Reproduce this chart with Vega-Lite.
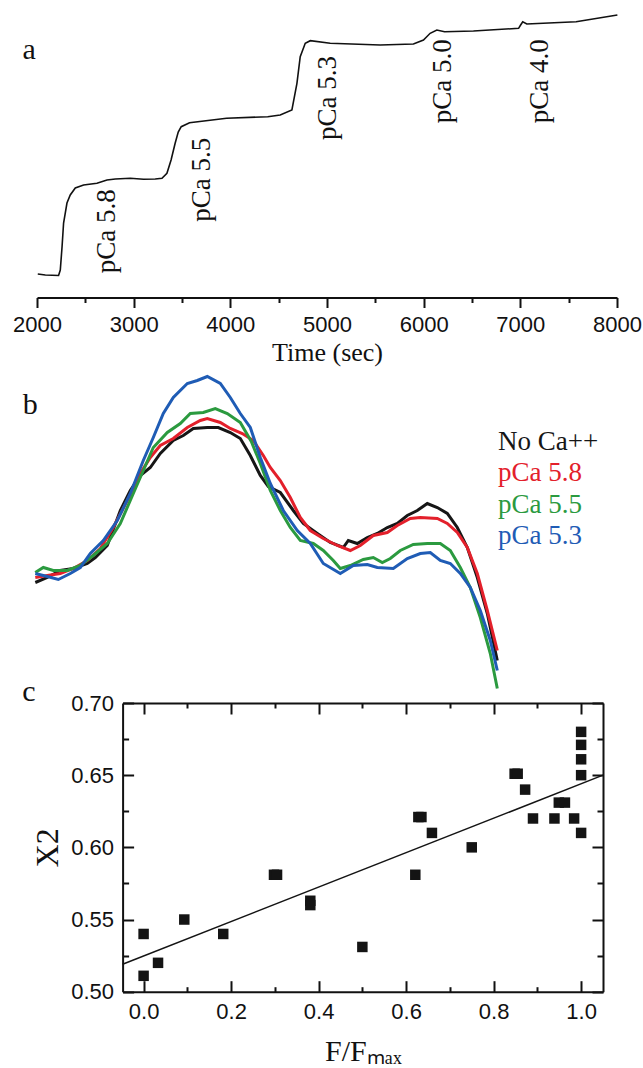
{
  "$schema": "https://vega.github.io/schema/vega-lite/v6.json",
  "background": "white",
  "padding": {"left": 12, "top": 10, "right": 0, "bottom": 0},
  "bounds": "flush",
  "spacing": 5,
  "config": {
    "view": {"stroke": null},
    "font": "Liberation Serif",
    "axis": {"grid": false, "domainColor": "#111", "domainWidth": 2, "tickColor": "#111", "tickWidth": 2, "labelFont": "Liberation Sans", "labelFontSize": 22, "labelColor": "#111", "titleFont": "Liberation Serif", "titleFontWeight": "normal", "titleColor": "#111", "labelFlush": false, "labelOverlap": false}
  },
  "datasets": {
    "trace": [
      {"t": 2008, "v": 23.5}, {"t": 2086, "v": 22.5}, {"t": 2223, "v": 22}, {"t": 2241, "v": 27.5}, {"t": 2259, "v": 50.5}, {"t": 2275, "v": 74.5}, {"t": 2310, "v": 94.5}, {"t": 2344, "v": 102.5}, {"t": 2396, "v": 109.5}, {"t": 2482, "v": 112.5}, {"t": 2620, "v": 114.2}, {"t": 2724, "v": 117.5}, {"t": 2810, "v": 118.5}, {"t": 2965, "v": 119.2}, {"t": 3102, "v": 118.2}, {"t": 3223, "v": 118.5}, {"t": 3293, "v": 119.2}, {"t": 3344, "v": 124.2}, {"t": 3387, "v": 137.5}, {"t": 3429, "v": 154.2}, {"t": 3461, "v": 165.5}, {"t": 3492, "v": 170.8}, {"t": 3578, "v": 174.8}, {"t": 3961, "v": 179.2}, {"t": 4387, "v": 180.8}, {"t": 4516, "v": 182.5}, {"t": 4637, "v": 187.5}, {"t": 4689, "v": 214.2}, {"t": 4723, "v": 240.8}, {"t": 4775, "v": 254.2}, {"t": 4827, "v": 256.8}, {"t": 5033, "v": 254.2}, {"t": 5550, "v": 252.5}, {"t": 5894, "v": 253.5}, {"t": 5998, "v": 257.5}, {"t": 6067, "v": 264.2}, {"t": 6136, "v": 267.5}, {"t": 6216, "v": 265.8}, {"t": 6515, "v": 266.5}, {"t": 6982, "v": 269.2}, {"t": 7003, "v": 272.5}, {"t": 7025, "v": 275.8}, {"t": 7067, "v": 273.5}, {"t": 7577, "v": 275.8}, {"t": 8004, "v": 282.5}
    ],
    "steps": [
      {"label": "pCa 5.8", "t": 2724, "v": 24.2},
      {"label": "pCa 5.5", "t": 3705, "v": 75.8},
      {"label": "pCa 5.3", "t": 5015, "v": 157.5},
      {"label": "pCa 5.0", "t": 6205, "v": 174.2},
      {"label": "pCa 4.0", "t": 7205, "v": 174.2}
    ],
    "spectra": [
      {"series": "No Ca++", "x": 5, "I": 115}, {"series": "No Ca++", "x": 17, "I": 120}, {"series": "No Ca++", "x": 30, "I": 127}, {"series": "No Ca++", "x": 43, "I": 129}, {"series": "No Ca++", "x": 57, "I": 134}, {"series": "No Ca++", "x": 65, "I": 140}, {"series": "No Ca++", "x": 77, "I": 152}, {"series": "No Ca++", "x": 90, "I": 187}, {"series": "No Ca++", "x": 100, "I": 207}, {"series": "No Ca++", "x": 110, "I": 222}, {"series": "No Ca++", "x": 120, "I": 230}, {"series": "No Ca++", "x": 130, "I": 244}, {"series": "No Ca++", "x": 143, "I": 257}, {"series": "No Ca++", "x": 153, "I": 262}, {"series": "No Ca++", "x": 163, "I": 269}, {"series": "No Ca++", "x": 177, "I": 270}, {"series": "No Ca++", "x": 188, "I": 270}, {"series": "No Ca++", "x": 200, "I": 265}, {"series": "No Ca++", "x": 210, "I": 259}, {"series": "No Ca++", "x": 220, "I": 242}, {"series": "No Ca++", "x": 230, "I": 222}, {"series": "No Ca++", "x": 238, "I": 211}, {"series": "No Ca++", "x": 250, "I": 205}, {"series": "No Ca++", "x": 263, "I": 187}, {"series": "No Ca++", "x": 273, "I": 174}, {"series": "No Ca++", "x": 287, "I": 164}, {"series": "No Ca++", "x": 300, "I": 155}, {"series": "No Ca++", "x": 313, "I": 150}, {"series": "No Ca++", "x": 318, "I": 157}, {"series": "No Ca++", "x": 327, "I": 154}, {"series": "No Ca++", "x": 337, "I": 160}, {"series": "No Ca++", "x": 347, "I": 164}, {"series": "No Ca++", "x": 357, "I": 170}, {"series": "No Ca++", "x": 367, "I": 174}, {"series": "No Ca++", "x": 377, "I": 182}, {"series": "No Ca++", "x": 387, "I": 187}, {"series": "No Ca++", "x": 397, "I": 194}, {"series": "No Ca++", "x": 407, "I": 190}, {"series": "No Ca++", "x": 417, "I": 184}, {"series": "No Ca++", "x": 427, "I": 170}, {"series": "No Ca++", "x": 437, "I": 150}, {"series": "No Ca++", "x": 447, "I": 120}, {"series": "No Ca++", "x": 457, "I": 84}, {"series": "No Ca++", "x": 467, "I": 37},
      {"series": "pCa 5.8", "x": 5, "I": 120}, {"series": "pCa 5.8", "x": 17, "I": 122}, {"series": "pCa 5.8", "x": 30, "I": 124}, {"series": "pCa 5.8", "x": 43, "I": 129}, {"series": "pCa 5.8", "x": 57, "I": 137}, {"series": "pCa 5.8", "x": 70, "I": 149}, {"series": "pCa 5.8", "x": 83, "I": 170}, {"series": "pCa 5.8", "x": 97, "I": 197}, {"series": "pCa 5.8", "x": 110, "I": 224}, {"series": "pCa 5.8", "x": 120, "I": 240}, {"series": "pCa 5.8", "x": 130, "I": 252}, {"series": "pCa 5.8", "x": 143, "I": 259}, {"series": "pCa 5.8", "x": 157, "I": 270}, {"series": "pCa 5.8", "x": 170, "I": 277}, {"series": "pCa 5.8", "x": 177, "I": 279}, {"series": "pCa 5.8", "x": 190, "I": 275}, {"series": "pCa 5.8", "x": 200, "I": 269}, {"series": "pCa 5.8", "x": 212, "I": 264}, {"series": "pCa 5.8", "x": 223, "I": 257}, {"series": "pCa 5.8", "x": 233, "I": 242}, {"series": "pCa 5.8", "x": 240, "I": 230}, {"series": "pCa 5.8", "x": 250, "I": 217}, {"series": "pCa 5.8", "x": 260, "I": 200}, {"series": "pCa 5.8", "x": 270, "I": 180}, {"series": "pCa 5.8", "x": 280, "I": 167}, {"series": "pCa 5.8", "x": 293, "I": 159}, {"series": "pCa 5.8", "x": 307, "I": 152}, {"series": "pCa 5.8", "x": 320, "I": 147}, {"series": "pCa 5.8", "x": 330, "I": 152}, {"series": "pCa 5.8", "x": 343, "I": 162}, {"series": "pCa 5.8", "x": 357, "I": 165}, {"series": "pCa 5.8", "x": 367, "I": 172}, {"series": "pCa 5.8", "x": 380, "I": 179}, {"series": "pCa 5.8", "x": 390, "I": 180}, {"series": "pCa 5.8", "x": 407, "I": 179}, {"series": "pCa 5.8", "x": 417, "I": 174}, {"series": "pCa 5.8", "x": 427, "I": 165}, {"series": "pCa 5.8", "x": 437, "I": 150}, {"series": "pCa 5.8", "x": 447, "I": 124}, {"series": "pCa 5.8", "x": 457, "I": 87}, {"series": "pCa 5.8", "x": 467, "I": 47},
      {"series": "pCa 5.5", "x": 5, "I": 125}, {"series": "pCa 5.5", "x": 13, "I": 130}, {"series": "pCa 5.5", "x": 23, "I": 127}, {"series": "pCa 5.5", "x": 37, "I": 127}, {"series": "pCa 5.5", "x": 50, "I": 132}, {"series": "pCa 5.5", "x": 63, "I": 142}, {"series": "pCa 5.5", "x": 77, "I": 154}, {"series": "pCa 5.5", "x": 90, "I": 174}, {"series": "pCa 5.5", "x": 103, "I": 204}, {"series": "pCa 5.5", "x": 113, "I": 227}, {"series": "pCa 5.5", "x": 123, "I": 250}, {"series": "pCa 5.5", "x": 137, "I": 265}, {"series": "pCa 5.5", "x": 150, "I": 274}, {"series": "pCa 5.5", "x": 160, "I": 284}, {"series": "pCa 5.5", "x": 173, "I": 285}, {"series": "pCa 5.5", "x": 185, "I": 289}, {"series": "pCa 5.5", "x": 197, "I": 284}, {"series": "pCa 5.5", "x": 210, "I": 275}, {"series": "pCa 5.5", "x": 221, "I": 256}, {"series": "pCa 5.5", "x": 230, "I": 234}, {"series": "pCa 5.5", "x": 240, "I": 207}, {"series": "pCa 5.5", "x": 250, "I": 187}, {"series": "pCa 5.5", "x": 260, "I": 170}, {"series": "pCa 5.5", "x": 270, "I": 157}, {"series": "pCa 5.5", "x": 283, "I": 154}, {"series": "pCa 5.5", "x": 293, "I": 147}, {"series": "pCa 5.5", "x": 303, "I": 137}, {"series": "pCa 5.5", "x": 310, "I": 129}, {"series": "pCa 5.5", "x": 320, "I": 132}, {"series": "pCa 5.5", "x": 333, "I": 138}, {"series": "pCa 5.5", "x": 343, "I": 140}, {"series": "pCa 5.5", "x": 352, "I": 135}, {"series": "pCa 5.5", "x": 360, "I": 139}, {"series": "pCa 5.5", "x": 370, "I": 147}, {"series": "pCa 5.5", "x": 383, "I": 153}, {"series": "pCa 5.5", "x": 397, "I": 154}, {"series": "pCa 5.5", "x": 410, "I": 154}, {"series": "pCa 5.5", "x": 420, "I": 147}, {"series": "pCa 5.5", "x": 430, "I": 130}, {"series": "pCa 5.5", "x": 440, "I": 110}, {"series": "pCa 5.5", "x": 450, "I": 80}, {"series": "pCa 5.5", "x": 460, "I": 44}, {"series": "pCa 5.5", "x": 467, "I": 9},
      {"series": "pCa 5.3", "x": 5, "I": 124}, {"series": "pCa 5.3", "x": 17, "I": 121}, {"series": "pCa 5.3", "x": 28, "I": 118}, {"series": "pCa 5.3", "x": 40, "I": 124}, {"series": "pCa 5.3", "x": 50, "I": 130}, {"series": "pCa 5.3", "x": 60, "I": 144}, {"series": "pCa 5.3", "x": 73, "I": 157}, {"series": "pCa 5.3", "x": 87, "I": 177}, {"series": "pCa 5.3", "x": 100, "I": 204}, {"series": "pCa 5.3", "x": 113, "I": 237}, {"series": "pCa 5.3", "x": 123, "I": 260}, {"series": "pCa 5.3", "x": 133, "I": 284}, {"series": "pCa 5.3", "x": 143, "I": 300}, {"series": "pCa 5.3", "x": 157, "I": 314}, {"series": "pCa 5.3", "x": 167, "I": 317}, {"series": "pCa 5.3", "x": 177, "I": 321}, {"series": "pCa 5.3", "x": 190, "I": 314}, {"series": "pCa 5.3", "x": 200, "I": 300}, {"series": "pCa 5.3", "x": 210, "I": 284}, {"series": "pCa 5.3", "x": 220, "I": 270}, {"series": "pCa 5.3", "x": 230, "I": 240}, {"series": "pCa 5.3", "x": 240, "I": 214}, {"series": "pCa 5.3", "x": 253, "I": 187}, {"series": "pCa 5.3", "x": 267, "I": 167}, {"series": "pCa 5.3", "x": 280, "I": 154}, {"series": "pCa 5.3", "x": 293, "I": 134}, {"series": "pCa 5.3", "x": 310, "I": 124}, {"series": "pCa 5.3", "x": 323, "I": 132}, {"series": "pCa 5.3", "x": 337, "I": 133}, {"series": "pCa 5.3", "x": 347, "I": 130}, {"series": "pCa 5.3", "x": 363, "I": 129}, {"series": "pCa 5.3", "x": 377, "I": 139}, {"series": "pCa 5.3", "x": 390, "I": 144}, {"series": "pCa 5.3", "x": 400, "I": 145}, {"series": "pCa 5.3", "x": 410, "I": 137}, {"series": "pCa 5.3", "x": 420, "I": 134}, {"series": "pCa 5.3", "x": 430, "I": 124}, {"series": "pCa 5.3", "x": 440, "I": 110}, {"series": "pCa 5.3", "x": 450, "I": 87}, {"series": "pCa 5.3", "x": 460, "I": 57}, {"series": "pCa 5.3", "x": 467, "I": 27}
    ],
    "pts": [
      {"f": 0.0, "x2": 0.54}, {"f": 0.0, "x2": 0.511}, {"f": 0.033, "x2": 0.52}, {"f": 0.093, "x2": 0.55}, {"f": 0.182, "x2": 0.54}, {"f": 0.298, "x2": 0.581}, {"f": 0.305, "x2": 0.581}, {"f": 0.381, "x2": 0.56}, {"f": 0.381, "x2": 0.563}, {"f": 0.5, "x2": 0.531}, {"f": 0.621, "x2": 0.581}, {"f": 0.628, "x2": 0.621}, {"f": 0.635, "x2": 0.621}, {"f": 0.659, "x2": 0.61}, {"f": 0.75, "x2": 0.6}, {"f": 0.848, "x2": 0.651}, {"f": 0.855, "x2": 0.651}, {"f": 0.872, "x2": 0.64}, {"f": 0.89, "x2": 0.62}, {"f": 0.939, "x2": 0.62}, {"f": 0.949, "x2": 0.631}, {"f": 0.963, "x2": 0.631}, {"f": 0.984, "x2": 0.62}, {"f": 1.0, "x2": 0.61}, {"f": 1.0, "x2": 0.65}, {"f": 1.0, "x2": 0.661}, {"f": 1.0, "x2": 0.671}, {"f": 1.0, "x2": 0.68}
    ],
    "fitline": [{"f": -0.048, "x2": 0.519}, {"f": 1.05, "x2": 0.65}]
  },
  "vconcat": [
    {
      "width": 580,
      "height": 287.5,
      "layer": [
        {
          "data": {"name": "trace"},
          "mark": {"type": "line", "color": "#111", "strokeWidth": 1.6},
          "encoding": {
            "x": {"field": "t", "type": "quantitative", "scale": {"domain": [2000, 8000], "nice": false, "zero": false},
              "axis": {"orient": "bottom", "values": [2000, 3000, 4000, 5000, 6000, 7000, 8000], "format": "d", "tickSize": 10, "labelPadding": 7, "title": "Time (sec)", "titlePadding": 4, "titleFontSize": 26}},
            "y": {"field": "v", "type": "quantitative", "scale": {"domain": [0, 287.5], "nice": false, "zero": false}, "axis": null}
          }
        },
        {
          "data": {"name": "trace"},
          "mark": {"type": "line", "opacity": 0},
          "encoding": {
            "x": {"field": "t", "type": "quantitative", "scale": {"domain": [2000, 8000], "nice": false, "zero": false},
              "axis": {"orient": "bottom", "values": [2500, 3500, 4500, 5500, 6500, 7500], "tickSize": 5, "labels": false, "domain": false, "title": null}},
            "y": {"field": "v", "type": "quantitative", "axis": null}
          }
        },
        {
          "data": {"name": "steps"},
          "mark": {"type": "text", "angle": 270, "align": "left", "baseline": "middle", "font": "Liberation Serif", "fontSize": 27, "color": "#111"},
          "encoding": {
            "x": {"field": "t", "type": "quantitative", "axis": null},
            "y": {"field": "v", "type": "quantitative", "axis": null},
            "text": {"field": "label"}
          }
        },
        {
          "data": {"values": [{"label": "a"}]},
          "mark": {"type": "text", "align": "center", "baseline": "middle", "font": "Liberation Serif", "fontSize": 30, "color": "#111"},
          "encoding": {
            "x": {"datum": 1918, "type": "quantitative", "axis": null},
            "y": {"datum": 248, "type": "quantitative", "axis": null},
            "text": {"field": "label"}
          }
        }
      ],
      "resolve": {"axis": {"x": "independent", "y": "independent"}}
    },
    {
      "width": 580,
      "height": 394.5,
      "layer": [
        {
          "data": {"name": "spectra"},
          "mark": {"type": "line", "strokeWidth": 3},
          "encoding": {
            "x": {"field": "x", "type": "quantitative", "scale": {"domain": [6.7, 586.7], "nice": false, "zero": false}, "axis": null},
            "y": {"field": "I", "type": "quantitative", "scale": {"domain": [0, 394.5], "nice": false, "zero": false}, "axis": null},
            "color": {"field": "series", "type": "nominal",
              "scale": {"domain": ["No Ca++", "pCa 5.8", "pCa 5.5", "pCa 5.3"], "range": ["#161616", "#e3202b", "#2b9a3f", "#1f5cb5"]},
              "legend": {"orient": "none", "legendX": 434, "legendY": 418, "title": null, "labelFont": "Liberation Serif", "labelFontSize": 27, "symbolSize": 0, "symbolOpacity": 0, "symbolStrokeWidth": 0, "labelOffset": 0, "rowPadding": 3.5, "padding": 0, "labelLimit": 0,
                "labelColor": {"expr": "datum.label === 'No Ca++' ? '#161616' : datum.label === 'pCa 5.8' ? '#e3202b' : datum.label === 'pCa 5.5' ? '#2b9a3f' : '#1f5cb5'"}}}
          }
        },
        {
          "data": {"values": [{"label": "b"}]},
          "mark": {"type": "text", "align": "center", "baseline": "middle", "font": "Liberation Serif", "fontSize": 30, "color": "#111"},
          "encoding": {
            "x": {"datum": 0, "type": "quantitative"},
            "y": {"datum": 293, "type": "quantitative"},
            "text": {"field": "label"}
          }
        }
      ]
    },
    {
      "width": 566,
      "height": 288.7,
      "layer": [
        {
          "data": {"name": "pts"},
          "mark": {"type": "point", "shape": "square", "filled": true, "size": 110, "color": "#141414", "opacity": 1},
          "encoding": {
            "x": {"field": "f", "type": "quantitative", "scale": {"domain": [-0.048, 1.05], "range": [85.6, 566], "nice": false, "zero": false},
              "axis": {"orient": "bottom", "values": [0, 0.2, 0.4, 0.6, 0.8, 1.0], "format": ".1f", "tickSize": -11, "labelPadding": 21, "title": "F/Fₘₐₓ", "titleFontSize": 30, "titlePadding": 14}},
            "y": {"field": "x2", "type": "quantitative", "scale": {"domain": [0.5, 0.7], "nice": false, "zero": false},
              "axis": {"orient": "left", "offset": -85.6, "values": [0.5, 0.55, 0.6, 0.65, 0.7], "format": ".2f", "tickSize": -11, "labelPadding": 20, "title": "X2", "titleFontSize": 32, "titlePadding": 6}}
          }
        },
        {
          "data": {"name": "fitline"},
          "mark": {"type": "line", "color": "#141414", "strokeWidth": 1.5},
          "encoding": {
            "x": {"field": "f", "type": "quantitative", "axis": {"orient": "top", "values": [0, 0.2, 0.4, 0.6, 0.8, 1.0], "tickSize": -11, "labels": false, "title": null}},
            "y": {"field": "x2", "type": "quantitative", "axis": {"orient": "right", "values": [0.5, 0.55, 0.6, 0.65, 0.7], "tickSize": -11, "labels": false, "title": null}}
          }
        },
        {
          "data": {"name": "pts"},
          "mark": {"type": "point", "opacity": 0},
          "encoding": {
            "x": {"field": "f", "type": "quantitative", "axis": {"orient": "bottom", "values": [0.1, 0.3, 0.5, 0.7, 0.9], "tickSize": -5, "labels": false, "domain": false, "title": null}},
            "y": {"field": "x2", "type": "quantitative", "axis": {"orient": "left", "offset": -85.6, "values": [0.525, 0.575, 0.625, 0.675], "tickSize": -6, "labels": false, "domain": false, "title": null}}
          }
        },
        {
          "data": {"name": "pts"},
          "mark": {"type": "point", "opacity": 0},
          "encoding": {
            "x": {"field": "f", "type": "quantitative", "axis": {"orient": "top", "values": [0.1, 0.3, 0.5, 0.7, 0.9], "tickSize": -5, "labels": false, "domain": false, "title": null}},
            "y": {"field": "x2", "type": "quantitative", "axis": {"orient": "right", "values": [0.525, 0.575, 0.625, 0.675], "tickSize": -6, "labels": false, "domain": false, "title": null}}
          }
        },
        {
          "data": {"values": [{"label": "c"}]},
          "mark": {"type": "text", "align": "center", "baseline": "middle", "font": "Liberation Serif", "fontSize": 30, "color": "#111"},
          "encoding": {
            "x": {"datum": -0.262, "type": "quantitative", "axis": null},
            "y": {"datum": 0.7076, "type": "quantitative", "axis": null},
            "text": {"field": "label"}
          }
        }
      ],
      "resolve": {"axis": {"x": "independent", "y": "independent"}}
    }
  ]
}
